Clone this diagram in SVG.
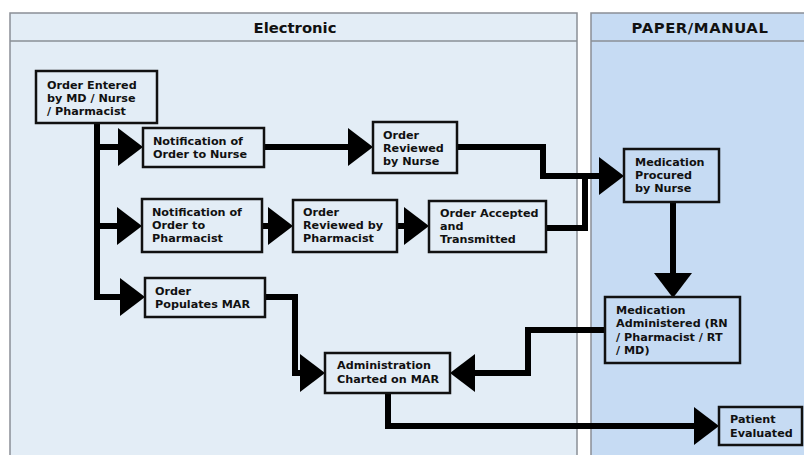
<svg xmlns="http://www.w3.org/2000/svg" width="804" height="455" viewBox="0 0 804 455">
<defs>
<style>
.lane{stroke:#8a8f96;stroke-width:1.5}
.el{fill:#e3edf6}
.pm{fill:#c6dbf3}
.hd{font-family:"DejaVu Sans",Verdana,sans-serif;font-weight:bold;font-size:14.8px;fill:#111;text-anchor:middle}
.box{stroke:#111;stroke-width:2.5}
.t{font-family:"DejaVu Sans",Verdana,sans-serif;font-weight:bold;font-size:11.2px;fill:#111}
.c{fill:none;stroke:#000;stroke-width:6;stroke-linejoin:miter;stroke-linecap:butt}
</style>
<marker id="ah" markerUnits="userSpaceOnUse" markerWidth="26" markerHeight="40" refX="0" refY="19" orient="auto" overflow="visible">
<path d="M0,0 L25,19 L0,38 Z" fill="#000"/>
</marker>
</defs>
<rect width="804" height="455" fill="#ffffff"/>
<g id="lane-electronic">
<rect class="el lane" x="10" y="13" width="567" height="450"/>
<line class="lane" x1="10" y1="41" x2="577" y2="41"/>
<text class="hd" x="295" y="33">Electronic</text>
</g>
<g id="lane-paper">
<rect class="pm lane" x="591" y="13" width="220" height="450"/>
<line class="lane" x1="591" y1="41" x2="811" y2="41"/>
<text class="hd" x="700" y="33" letter-spacing="0.6">PAPER/MANUAL</text>
</g>
<g id="connectors">
<path class="c" d="M97,123 V297 H120" marker-end="url(#ah)"/>
<path class="c" d="M97,147 H118" marker-end="url(#ah)"/>
<path class="c" d="M97,226 H117" marker-end="url(#ah)"/>
<path class="c" d="M264,147 H348" marker-end="url(#ah)"/>
<path class="c" d="M262,226 H268" marker-end="url(#ah)"/>
<path class="c" d="M397,226 H404" marker-end="url(#ah)"/>
<path class="c" d="M457,147 H543 V176 H599" marker-end="url(#ah)"/>
<path class="c" d="M546,228 H585 V176"/>
<path class="c" d="M673,202 V273" marker-end="url(#ah)"/>
<path class="c" d="M605,330 H528 V373 H475" marker-end="url(#ah)"/>
<path class="c" d="M265,297 H295 V373 H300" marker-end="url(#ah)"/>
<path class="c" d="M388,393 V426 H694" marker-end="url(#ah)"/>
</g>
<g id="n-order-entered">
<rect class="box el" x="36" y="71" width="121" height="52"/>
<text class="t" x="47" y="89">Order Entered</text>
<text class="t" x="47" y="102">by MD / Nurse</text>
<text class="t" x="47" y="115">/ Pharmacist</text>
</g>
<g id="n-notif-nurse">
<rect class="box el" x="143" y="128" width="121" height="39"/>
<text class="t" x="153" y="145">Notification of</text>
<text class="t" x="153" y="158">Order to Nurse</text>
</g>
<g id="n-reviewed-nurse">
<rect class="box el" x="373" y="122" width="84" height="51"/>
<text class="t" x="383" y="139">Order</text>
<text class="t" x="383" y="152">Reviewed</text>
<text class="t" x="383" y="165">by Nurse</text>
</g>
<g id="n-notif-pharm">
<rect class="box el" x="142" y="199" width="120" height="53"/>
<text class="t" x="152" y="216">Notification of</text>
<text class="t" x="152" y="229">Order to</text>
<text class="t" x="152" y="242">Pharmacist</text>
</g>
<g id="n-reviewed-pharm">
<rect class="box el" x="293" y="200" width="104" height="52"/>
<text class="t" x="303" y="216">Order</text>
<text class="t" x="303" y="229">Reviewed by</text>
<text class="t" x="303" y="242">Pharmacist</text>
</g>
<g id="n-accepted">
<rect class="box el" x="429" y="201" width="117" height="51"/>
<text class="t" x="440" y="217">Order Accepted</text>
<text class="t" x="440" y="230">and</text>
<text class="t" x="440" y="243">Transmitted</text>
</g>
<g id="n-populates">
<rect class="box el" x="145" y="278" width="120" height="39"/>
<text class="t" x="155" y="295">Order</text>
<text class="t" x="155" y="308">Populates MAR</text>
</g>
<g id="n-procured">
<rect class="box pm" x="624" y="149" width="95" height="53"/>
<text class="t" x="635" y="166">Medication</text>
<text class="t" x="635" y="179">Procured</text>
<text class="t" x="635" y="192">by Nurse</text>
</g>
<g id="n-administered">
<rect class="box pm" x="605" y="297" width="135" height="66"/>
<text class="t" x="616" y="314">Medication</text>
<text class="t" x="616" y="327">Administered (RN</text>
<text class="t" x="616" y="341">/ Pharmacist / RT</text>
<text class="t" x="616" y="354">/ MD)</text>
</g>
<g id="n-charted">
<rect class="box el" x="325" y="353" width="125" height="40"/>
<text class="t" x="337" y="369">Administration</text>
<text class="t" x="337" y="383">Charted on MAR</text>
</g>
<g id="n-evaluated">
<rect class="box pm" x="719" y="407" width="83" height="38"/>
<text class="t" x="730" y="423">Patient</text>
<text class="t" x="730" y="437">Evaluated</text>
</g>
</svg>
